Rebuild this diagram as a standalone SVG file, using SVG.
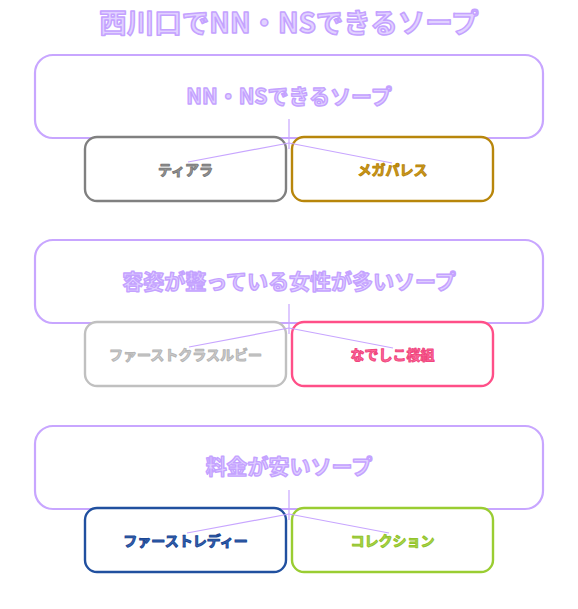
<svg xmlns="http://www.w3.org/2000/svg" width="578" height="609" viewBox="0 0 578 609">
<style>
.bg{fill:#ffffff}
.group{fill:#ffffff;stroke:#c8a6ff;stroke-width:2.2}
.child{fill:#ffffff;stroke-width:2.4}
.conn{stroke:#c8a6ff;stroke-width:1.2;fill:none}
text{font-family:"Noto Sans CJK JP","Noto Sans",sans-serif;font-weight:bold;text-anchor:middle;dominant-baseline:central;stroke-linejoin:round}
.title{font-size:27.5px;fill:#e2d2ff;stroke:#c4a2ff;stroke-width:1.5}
.gt{font-size:21px;fill:#e0cfff;stroke:#c4a2ff;stroke-width:1.4}
.ct{font-size:14px;stroke-width:1}
</style>
<rect class="bg" x="0" y="0" width="578" height="609"/>
<g id="title"><text class="title" x="289" y="21">西川口でNN・NSできるソープ</text></g>

<g id="group1"><rect class="group" x="35" y="55" width="508" height="83" rx="18"/><text class="gt" x="289" y="95">NN・NSできるソープ</text></g>
<g id="group2"><rect class="group" x="35" y="240" width="508" height="83" rx="18"/><text class="gt" x="289" y="280">容姿が整っている女性が多いソープ</text></g>
<g id="group3"><rect class="group" x="35" y="426" width="508" height="83" rx="18"/><text class="gt" x="289" y="465">料金が安いソープ</text></g>

<g id="tiara"><rect class="child" x="85" y="137" width="201" height="64" rx="12" stroke="#808080"/></g>
<g id="megapalace"><rect class="child" x="292" y="137" width="201" height="64" rx="12" stroke="#b8860b"/></g>
<g id="firstclassruby"><rect class="child" x="85" y="322" width="201" height="64" rx="12" stroke="#c0c0c0"/></g>
<g id="nadeshiko"><rect class="child" x="292" y="322" width="201" height="64" rx="12" stroke="#ff4f88"/></g>
<g id="firstlady"><rect class="child" x="85" y="508" width="201" height="64" rx="12" stroke="#21509f"/></g>
<g id="collection"><rect class="child" x="292" y="508" width="201" height="64" rx="12" stroke="#9acd32"/></g>

<g id="connectors">
<line class="conn" x1="289" y1="119" x2="289" y2="149"/>
<line class="conn" x1="289" y1="143" x2="188" y2="162"/>
<line class="conn" x1="289" y1="143" x2="392" y2="163"/>
<line class="conn" x1="289" y1="304" x2="289" y2="334"/>
<line class="conn" x1="289" y1="328" x2="189" y2="347"/>
<line class="conn" x1="289" y1="328" x2="393" y2="348"/>
<line class="conn" x1="289" y1="490" x2="289" y2="520"/>
<line class="conn" x1="289" y1="514" x2="187" y2="533"/>
<line class="conn" x1="289" y1="514" x2="389" y2="533"/>
</g>

<g id="labels">
<text class="ct" x="185.5" y="169" fill="#999999" stroke="#7a7a7a">ティアラ</text>
<text class="ct" x="392.5" y="169" fill="#cf9a1e" stroke="#b8860b">メガパレス</text>
<text class="ct" x="185.5" y="354" fill="#cfcfcf" stroke="#b5b5b5">ファーストクラスルビー</text>
<text class="ct" x="392.5" y="354" fill="#ff6f9c" stroke="#f0467f">なでしこ桜組</text>
<text class="ct" x="185.5" y="540" fill="#3565b5" stroke="#1c4793">ファーストレディー</text>
<text class="ct" x="392.5" y="540" fill="#acd84e" stroke="#92c32c">コレクション</text>
</g>
</svg>
